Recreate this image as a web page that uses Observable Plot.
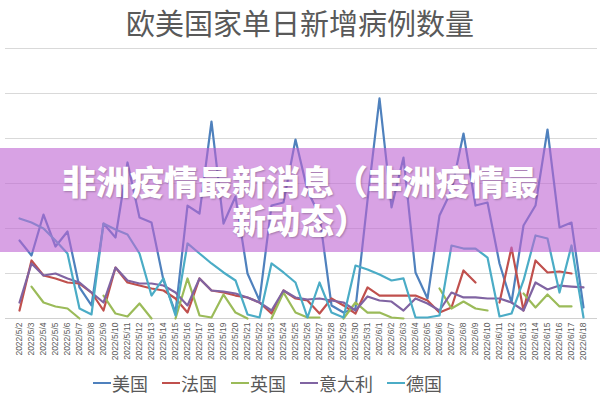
<!DOCTYPE html>
<html><head><meta charset="utf-8">
<script src="https://cdn.jsdelivr.net/npm/d3@7"></script>
<script src="https://cdn.jsdelivr.net/npm/@observablehq/plot@0.6"></script>
<style>
html,body{margin:0;padding:0;background:#fff;}
#wrap{position:relative;width:600px;height:400px;overflow:hidden;font-family:"Noto Sans CJK SC","Noto Sans",sans-serif;}
#title{position:absolute;top:0;left:0;width:600px;height:44px;line-height:44px;text-align:center;font-size:29px;color:#595959;}
#chart{position:absolute;top:40px;left:0;}
#legend{position:absolute;top:366px;left:93px;height:34px;display:flex;align-items:center;font-size:18px;color:#595959;white-space:nowrap;}
.item{display:flex;align-items:center;margin-right:14px;}
.swatch{width:18px;height:2.5px;margin-right:1px;}
#banner{position:absolute;top:148px;left:0;width:600px;height:104px;box-sizing:border-box;padding:13px 60px 0 60px;background:rgba(190,100,210,0.6);color:#fff;font-weight:900;font-size:34px;text-align:center;line-height:39px;text-shadow:1px 1px 2px rgba(0,0,0,0.25);}
</style></head>
<body>
<div id="wrap">
  <div id="chart"></div>
  <div id="title"></div>
  <div id="legend"></div>
  <div id="banner"></div>
</div>
<script>
const titleText = "欧美国家单日新增病例数量";
const bannerText = "非洲疫情最新消息（非洲疫情最新动态）";
const dates = ["2022/5/2","2022/5/3","2022/5/4","2022/5/5","2022/5/6","2022/5/7","2022/5/8","2022/5/9","2022/5/10","2022/5/11",
"2022/5/12","2022/5/13","2022/5/14","2022/5/15","2022/5/16","2022/5/17","2022/5/18","2022/5/19","2022/5/20","2022/5/21",
"2022/5/22","2022/5/23","2022/5/24","2022/5/25","2022/5/26","2022/5/27","2022/5/28","2022/5/29","2022/5/30","2022/5/31",
"2022/6/1","2022/6/2","2022/6/3","2022/6/4","2022/6/5","2022/6/6","2022/6/7","2022/6/8","2022/6/9","2022/6/10",
"2022/6/11","2022/6/12","2022/6/13","2022/6/14","2022/6/15","2022/6/16","2022/6/17","2022/6/18"];
const names = ["美国","法国","英国","意大利","德国"];
const colors = ["#4F81BD","#C0504D","#9BBB59","#8064A2","#4BACC6"];
const us = [69300,56000,92400,64000,77300,27600,11600,84400,72000,138700,89800,85300,33800,5300,100400,93300,175100,84400,108400,40000,16000,100400,103100,159100,113800,91600,11600,5300,8900,104900,195600,98700,143100,40900,17800,91600,113800,164400,100400,103100,48900,14200,82700,100400,168000,80900,85300,9800];
const fr = [7100,51600,38200,35600,32000,31100,23100,7100,45300,32000,29300,26700,24900,17800,5300,35600,24900,23100,20400,18700,14200,4400,24900,17800,16000,4400,17800,11600,4400,27600,20400,20400,20400,20400,16000,5300,9800,42700,32000,null,14200,63100,7100,51600,40900,41800,40000,null];
const uk = [null,28400,14200,10700,8900,0,null,20400,4400,1800,13300,0,null,0,35600,2700,900,21300,5300,0,null,0,23100,5300,900,900,null,0,14200,5300,5300,900,0,null,null,26700,8900,15100,8900,7100,null,null,22200,9800,21300,10700,10700,null];
const it = [14200,48900,38200,40000,35600,32000,23100,14200,45300,33800,31100,31100,29300,23100,11600,35600,24900,24000,22200,18700,14200,7100,24900,18700,16900,17800,16000,14200,7100,19600,16000,15100,7100,17800,13300,7100,23100,18700,18700,17800,17800,14200,7100,32000,25800,29300,28400,27600];
const de = [88900,85300,80000,69300,57800,8900,3600,84400,79100,74700,57800,20400,35600,2700,66700,57800,48900,40900,33800,3600,900,48900,40900,32000,900,32000,5300,900,47100,43600,39100,33800,35600,900,900,2700,64900,62200,62200,54200,1800,4400,33800,73800,71100,23100,64900,900];
const yTicks = [40000,80000,120000,160000,200000,240000];

const seriesValues = [us, fr, uk, it, de];
const rows = [];
names.forEach((n, k) => dates.forEach((d, i) => rows.push({date: d, country: n, cases: seriesValues[k][i]})));

document.getElementById("title").textContent = titleText;
document.getElementById("banner").textContent = bannerText;

const chart = Plot.plot({
  width: 600, height: 325,
  marginLeft: 5, marginRight: 3, marginTop: 8, marginBottom: 47,
  style: {background: "transparent", fontFamily: "Liberation Sans", fontSize: "8.5px", color: "#595959"},
  x: {type: "point", domain: dates, padding: 0, axis: null, label: null},
  y: {domain: [0, 240000], axis: null},
  color: {domain: names, range: colors},
  marks: [
    Plot.gridY(yTicks, {stroke: "#d9d9d9", strokeOpacity: 1}),
    Plot.ruleY([0], {stroke: "#d0d0d0", strokeWidth: 1}),
    Plot.axisX({ticks: dates, label: null, tickRotate: -90, tickSize: 0, tickPadding: 4, fontSize: 8.5, fill: "#595959", fontFamily: "Liberation Sans"}),
    Plot.line(rows, {x: "date", y: "cases", stroke: "country", strokeWidth: 2.2, strokeLinejoin: "round", strokeLinecap: "round"})
  ]
});
document.getElementById("chart").appendChild(chart);

const legend = document.getElementById("legend");
names.forEach((n, k) => {
  const item = document.createElement("div"); item.className = "item";
  const sw = document.createElement("span"); sw.className = "swatch"; sw.style.background = colors[k];
  const tx = document.createElement("span"); tx.textContent = n;
  item.appendChild(sw); item.appendChild(tx); legend.appendChild(item);
});
</script>
</body></html>
